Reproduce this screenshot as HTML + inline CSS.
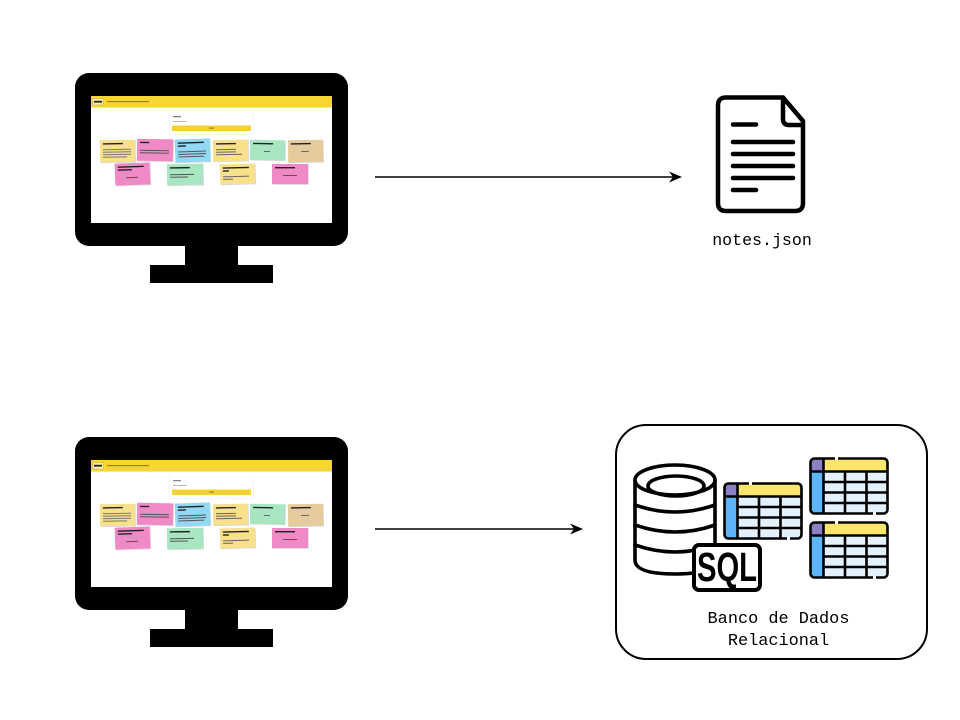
<!DOCTYPE html>
<html>
<head>
<meta charset="utf-8">
<style>
  html,body{margin:0;padding:0;background:#fff;}
  svg{display:block;}
</style>
</head>
<body>
<svg width="960" height="720" viewBox="0 0 960 720" xmlns="http://www.w3.org/2000/svg">
  <defs>
    <filter id="bl" x="-5%" y="-5%" width="110%" height="110%">
      <feGaussianBlur stdDeviation="0.35"/>
    </filter>
  </defs>
  <rect width="960" height="720" fill="#fff"/>

  <!-- ===== TOP MONITOR ===== -->
  <g>
    <rect x="75" y="73" width="273" height="173" rx="14" fill="#000"/>
    <rect x="185" y="244" width="53" height="22" fill="#000"/>
    <rect x="150" y="265" width="123" height="18" fill="#000"/>
    <rect x="91" y="96" width="241" height="127" fill="#fff"/>
    <g filter="url(#bl)">
      <rect x="91" y="96" width="241" height="11" fill="#f7d631"/>
      <rect x="91" y="107" width="241" height="1" fill="#e2e2e2"/>
      <rect x="92.5" y="98.5" width="11" height="6.5" fill="#fbeea0" stroke="#b9a030" stroke-width="0.4"/>
      <rect x="94" y="100.8" width="8" height="1.8" fill="#222"/>
      <rect x="107" y="101" width="42" height="1.2" fill="#9a8526"/>
      <!-- form -->
      <rect x="169.5" y="112" width="84" height="22.5" fill="#e8e8e8"/>
      <rect x="170" y="112" width="83" height="22" fill="#fff"/>
      <rect x="173" y="116" width="8" height="1.3" fill="#888"/>
      <rect x="173" y="121" width="14" height="1" fill="#bbb"/>
      <rect x="172" y="125.5" width="79" height="5.5" fill="#f5d22e"/>
      <rect x="209" y="127.6" width="5" height="1" fill="#8a7620"/>
      <!-- notes row 1 -->
      <g transform="rotate(-1 117 151)"><rect x="100.8" y="140.8" width="35" height="22" fill="#d8d8d8"/><rect x="100" y="140" width="35" height="22" fill="#f9e08a"/><rect x="103" y="143" width="20" height="1.4" fill="#222"/><rect x="103" y="149" width="28" height="1" fill="#777"/><rect x="103" y="151.5" width="28" height="1" fill="#777"/><rect x="103" y="154" width="28" height="1" fill="#777"/><rect x="103" y="156.5" width="24" height="1" fill="#777"/></g>
      <g transform="rotate(1 155 150)"><rect x="137.8" y="139.8" width="36" height="22" fill="#d8d8d8"/><rect x="137" y="139" width="36" height="22" fill="#f08ac6"/><rect x="140" y="142" width="9" height="1.4" fill="#222"/><rect x="140" y="150" width="29" height="1" fill="#555"/><rect x="140" y="152.5" width="29" height="1" fill="#555"/></g>
      <g transform="rotate(-2 192 150)"><rect x="175.8" y="139.8" width="35" height="23" fill="#d8d8d8"/><rect x="175" y="139" width="35" height="23" fill="#93d8f2"/><rect x="178" y="142" width="26" height="1.4" fill="#222"/><rect x="178" y="145" width="8" height="1.4" fill="#222"/><rect x="178" y="151" width="28" height="1" fill="#555"/><rect x="178" y="153.5" width="28" height="1" fill="#555"/><rect x="178" y="156" width="26" height="1" fill="#555"/></g>
      <g transform="rotate(-1 230 150)"><rect x="213.8" y="140.8" width="35" height="21" fill="#d8d8d8"/><rect x="213" y="140" width="35" height="21" fill="#f9e08a"/><rect x="216" y="143" width="20" height="1.4" fill="#222"/><rect x="216" y="149" width="20" height="1" fill="#666"/><rect x="216" y="151.5" width="20" height="1" fill="#666"/><rect x="216" y="154" width="26" height="1" fill="#666"/></g>
      <g transform="rotate(1 267 150)"><rect x="250.8" y="140.8" width="35" height="20" fill="#d8d8d8"/><rect x="250" y="140" width="35" height="20" fill="#a8e6c1"/><rect x="253" y="143" width="20" height="1.4" fill="#222"/><rect x="264" y="151" width="6" height="1" fill="#666"/></g>
      <g transform="rotate(-1 305 151)"><rect x="288.8" y="140.8" width="35" height="22" fill="#d8d8d8"/><rect x="288" y="140" width="35" height="22" fill="#e6cb9f"/><rect x="291" y="143" width="20" height="1.4" fill="#222"/><rect x="301" y="151" width="8" height="1" fill="#666"/></g>
      <!-- notes row 2 -->
      <g transform="rotate(-2 132 174)"><rect x="115.8" y="163.8" width="35" height="22" fill="#d8d8d8"/><rect x="115" y="163" width="35" height="22" fill="#f08ac6"/><rect x="118" y="166" width="26" height="1.4" fill="#222"/><rect x="118" y="169" width="14" height="1.4" fill="#222"/><rect x="126" y="177" width="12" height="1" fill="#555"/></g>
      <g transform="rotate(-1 185 174)"><rect x="167.8" y="164.8" width="36" height="21" fill="#d8d8d8"/><rect x="167" y="164" width="36" height="21" fill="#a8e6c1"/><rect x="170" y="167" width="20" height="1.4" fill="#222"/><rect x="170" y="174" width="24" height="1" fill="#555"/><rect x="170" y="176.5" width="18" height="1" fill="#555"/></g>
      <g transform="rotate(-1.5 237 174)"><rect x="220.8" y="164.8" width="35" height="20" fill="#d8d8d8"/><rect x="220" y="164" width="35" height="20" fill="#f9e08a"/><rect x="223" y="167" width="26" height="1.4" fill="#222"/><rect x="223" y="170" width="6" height="1.4" fill="#222"/><rect x="223" y="176" width="26" height="1" fill="#666"/><rect x="223" y="178.5" width="10" height="1" fill="#666"/></g>
      <g transform="rotate(0 290 174)"><rect x="272.8" y="164.8" width="36" height="20" fill="#d8d8d8"/><rect x="272" y="164" width="36" height="20" fill="#f08ac6"/><rect x="275" y="167" width="20" height="1.4" fill="#222"/><rect x="283" y="175" width="14" height="1" fill="#555"/></g>
    </g>
  </g>

  <!-- ===== BOTTOM MONITOR ===== -->
  <g transform="translate(0,364)">
    <rect x="75" y="73" width="273" height="173" rx="14" fill="#000"/>
    <rect x="185" y="244" width="53" height="22" fill="#000"/>
    <rect x="150" y="265" width="123" height="18" fill="#000"/>
    <rect x="91" y="96" width="241" height="127" fill="#fff"/>
    <g filter="url(#bl)">
      <rect x="91" y="96" width="241" height="11" fill="#f7d631"/>
      <rect x="91" y="107" width="241" height="1" fill="#e2e2e2"/>
      <rect x="92.5" y="98.5" width="11" height="6.5" fill="#fbeea0" stroke="#b9a030" stroke-width="0.4"/>
      <rect x="94" y="100.8" width="8" height="1.8" fill="#222"/>
      <rect x="107" y="101" width="42" height="1.2" fill="#9a8526"/>
      <rect x="169.5" y="112" width="84" height="22.5" fill="#e8e8e8"/>
      <rect x="170" y="112" width="83" height="22" fill="#fff"/>
      <rect x="173" y="116" width="8" height="1.3" fill="#888"/>
      <rect x="173" y="121" width="14" height="1" fill="#bbb"/>
      <rect x="172" y="125.5" width="79" height="5.5" fill="#f5d22e"/>
      <rect x="209" y="127.6" width="5" height="1" fill="#8a7620"/>
      <g transform="rotate(-1 117 151)"><rect x="100.8" y="140.8" width="35" height="22" fill="#d8d8d8"/><rect x="100" y="140" width="35" height="22" fill="#f9e08a"/><rect x="103" y="143" width="20" height="1.4" fill="#222"/><rect x="103" y="149" width="28" height="1" fill="#777"/><rect x="103" y="151.5" width="28" height="1" fill="#777"/><rect x="103" y="154" width="28" height="1" fill="#777"/><rect x="103" y="156.5" width="24" height="1" fill="#777"/></g>
      <g transform="rotate(1 155 150)"><rect x="137.8" y="139.8" width="36" height="22" fill="#d8d8d8"/><rect x="137" y="139" width="36" height="22" fill="#f08ac6"/><rect x="140" y="142" width="9" height="1.4" fill="#222"/><rect x="140" y="150" width="29" height="1" fill="#555"/><rect x="140" y="152.5" width="29" height="1" fill="#555"/></g>
      <g transform="rotate(-2 192 150)"><rect x="175.8" y="139.8" width="35" height="23" fill="#d8d8d8"/><rect x="175" y="139" width="35" height="23" fill="#93d8f2"/><rect x="178" y="142" width="26" height="1.4" fill="#222"/><rect x="178" y="145" width="8" height="1.4" fill="#222"/><rect x="178" y="151" width="28" height="1" fill="#555"/><rect x="178" y="153.5" width="28" height="1" fill="#555"/><rect x="178" y="156" width="26" height="1" fill="#555"/></g>
      <g transform="rotate(-1 230 150)"><rect x="213.8" y="140.8" width="35" height="21" fill="#d8d8d8"/><rect x="213" y="140" width="35" height="21" fill="#f9e08a"/><rect x="216" y="143" width="20" height="1.4" fill="#222"/><rect x="216" y="149" width="20" height="1" fill="#666"/><rect x="216" y="151.5" width="20" height="1" fill="#666"/><rect x="216" y="154" width="26" height="1" fill="#666"/></g>
      <g transform="rotate(1 267 150)"><rect x="250.8" y="140.8" width="35" height="20" fill="#d8d8d8"/><rect x="250" y="140" width="35" height="20" fill="#a8e6c1"/><rect x="253" y="143" width="20" height="1.4" fill="#222"/><rect x="264" y="151" width="6" height="1" fill="#666"/></g>
      <g transform="rotate(-1 305 151)"><rect x="288.8" y="140.8" width="35" height="22" fill="#d8d8d8"/><rect x="288" y="140" width="35" height="22" fill="#e6cb9f"/><rect x="291" y="143" width="20" height="1.4" fill="#222"/><rect x="301" y="151" width="8" height="1" fill="#666"/></g>
      <g transform="rotate(-2 132 174)"><rect x="115.8" y="163.8" width="35" height="22" fill="#d8d8d8"/><rect x="115" y="163" width="35" height="22" fill="#f08ac6"/><rect x="118" y="166" width="26" height="1.4" fill="#222"/><rect x="118" y="169" width="14" height="1.4" fill="#222"/><rect x="126" y="177" width="12" height="1" fill="#555"/></g>
      <g transform="rotate(-1 185 174)"><rect x="167.8" y="164.8" width="36" height="21" fill="#d8d8d8"/><rect x="167" y="164" width="36" height="21" fill="#a8e6c1"/><rect x="170" y="167" width="20" height="1.4" fill="#222"/><rect x="170" y="174" width="24" height="1" fill="#555"/><rect x="170" y="176.5" width="18" height="1" fill="#555"/></g>
      <g transform="rotate(-1.5 237 174)"><rect x="220.8" y="164.8" width="35" height="20" fill="#d8d8d8"/><rect x="220" y="164" width="35" height="20" fill="#f9e08a"/><rect x="223" y="167" width="26" height="1.4" fill="#222"/><rect x="223" y="170" width="6" height="1.4" fill="#222"/><rect x="223" y="176" width="26" height="1" fill="#666"/><rect x="223" y="178.5" width="10" height="1" fill="#666"/></g>
      <g transform="rotate(0 290 174)"><rect x="272.8" y="164.8" width="36" height="20" fill="#d8d8d8"/><rect x="272" y="164" width="36" height="20" fill="#f08ac6"/><rect x="275" y="167" width="20" height="1.4" fill="#222"/><rect x="283" y="175" width="14" height="1" fill="#555"/></g>
    </g>
  </g>

  <!-- ===== ARROWS ===== -->
  <line x1="375" y1="177" x2="674" y2="177" stroke="#000" stroke-width="1.6"/>
  <path d="M682,177 L669,171.5 L673,177 L669,182.5 Z" fill="#000"/>
  <line x1="375" y1="529" x2="575" y2="529" stroke="#000" stroke-width="1.6"/>
  <path d="M583,529 L570,523.5 L574,529 L570,534.5 Z" fill="#000"/>

  <!-- ===== DOCUMENT ICON ===== -->
  <g fill="none" stroke="#000" stroke-width="4.5" stroke-linejoin="round" stroke-linecap="round">
    <path d="M726,97.5 H783 L803,121 V203 Q803,211 795,211 H726 Q718,211 718,203 V105.5 Q718,97.5 726,97.5 Z" fill="#fff"/>
    <path d="M783,97.5 V119 Q783,125 789,125 H803"/>
    <line x1="733" y1="124.5" x2="756" y2="124.5"/>
    <line x1="733" y1="142" x2="793" y2="142"/>
    <line x1="733" y1="154" x2="793" y2="154"/>
    <line x1="733" y1="166" x2="793" y2="166"/>
    <line x1="733" y1="178" x2="793" y2="178"/>
    <line x1="733" y1="190" x2="756" y2="190"/>
  </g>
  <text x="762" y="245" text-anchor="middle" font-family="'Liberation Mono', monospace" font-size="16.6" fill="#000">notes.json</text>

  <!-- ===== DATABASE BOX ===== -->
  <rect x="616" y="425" width="311" height="234" rx="30" fill="#fff" stroke="#000" stroke-width="2"/>

  <!-- cylinder -->
  <g fill="none" stroke="#000" stroke-width="3.6" stroke-linecap="round" stroke-linejoin="round">
    <path d="M635,480 V560 Q635,574 675,574 Q715,574 715,560 V480" fill="#fff"/>
    <ellipse cx="675" cy="480" rx="40" ry="15" fill="#fff"/>
    <ellipse cx="676" cy="486" rx="28" ry="10"/>
    <path d="M635,505 Q675,519 715,505"/>
    <path d="M635,525 Q675,539 715,525"/>
    <path d="M635,545 Q675,559 715,545"/>
  </g>

  <!-- SQL box -->
  <rect x="694" y="545" width="66" height="45" rx="5" fill="#fff" stroke="#000" stroke-width="4"/>
  <text x="697" y="581" font-family="'Liberation Sans', 'DejaVu Sans', sans-serif" font-weight="bold" font-size="41" textLength="60" lengthAdjust="spacingAndGlyphs" fill="#000">SQL</text>

  <!-- table 1 -->
  <g transform="translate(723,482)">
    <rect x="1.5" y="1.5" width="77" height="55" rx="4" fill="#e3f1fd"/>
    <rect x="1.5" y="1.5" width="77" height="13" fill="#fde46d"/>
    <rect x="1.5" y="1.5" width="13" height="13" fill="#8c7fc6"/>
    <rect x="1.5" y="14.5" width="13" height="42" fill="#5db4f7"/>
    <g stroke="#000" stroke-width="2.6" fill="none">
      <line x1="1.5" y1="14.5" x2="78.5" y2="14.5"/>
      <line x1="14.5" y1="1.5" x2="14.5" y2="56.5"/>
      <line x1="14.5" y1="25" x2="78.5" y2="25"/>
      <line x1="14.5" y1="35.5" x2="78.5" y2="35.5"/>
      <line x1="14.5" y1="46" x2="78.5" y2="46"/>
      <line x1="36" y1="14.5" x2="36" y2="56.5"/>
      <line x1="57.5" y1="14.5" x2="57.5" y2="56.5"/>
      <rect x="1.5" y="1.5" width="77" height="55" rx="4"/>
    </g>
    <rect x="26" y="0" width="3" height="3" fill="#fff"/>
    <rect x="64" y="55" width="3" height="3" fill="#fff"/>
  </g>
  <!-- table 2 -->
  <g transform="translate(809,457)">
    <rect x="1.5" y="1.5" width="77" height="55" rx="4" fill="#e3f1fd"/>
    <rect x="1.5" y="1.5" width="77" height="13" fill="#fde46d"/>
    <rect x="1.5" y="1.5" width="13" height="13" fill="#8c7fc6"/>
    <rect x="1.5" y="14.5" width="13" height="42" fill="#5db4f7"/>
    <g stroke="#000" stroke-width="2.6" fill="none">
      <line x1="1.5" y1="14.5" x2="78.5" y2="14.5"/>
      <line x1="14.5" y1="1.5" x2="14.5" y2="56.5"/>
      <line x1="14.5" y1="25" x2="78.5" y2="25"/>
      <line x1="14.5" y1="35.5" x2="78.5" y2="35.5"/>
      <line x1="14.5" y1="46" x2="78.5" y2="46"/>
      <line x1="36" y1="14.5" x2="36" y2="56.5"/>
      <line x1="57.5" y1="14.5" x2="57.5" y2="56.5"/>
      <rect x="1.5" y="1.5" width="77" height="55" rx="4"/>
    </g>
    <rect x="26" y="0" width="3" height="3" fill="#fff"/>
    <rect x="64" y="55" width="3" height="3" fill="#fff"/>
  </g>
  <!-- table 3 -->
  <g transform="translate(809,521)">
    <rect x="1.5" y="1.5" width="77" height="55" rx="4" fill="#e3f1fd"/>
    <rect x="1.5" y="1.5" width="77" height="13" fill="#fde46d"/>
    <rect x="1.5" y="1.5" width="13" height="13" fill="#8c7fc6"/>
    <rect x="1.5" y="14.5" width="13" height="42" fill="#5db4f7"/>
    <g stroke="#000" stroke-width="2.6" fill="none">
      <line x1="1.5" y1="14.5" x2="78.5" y2="14.5"/>
      <line x1="14.5" y1="1.5" x2="14.5" y2="56.5"/>
      <line x1="14.5" y1="25" x2="78.5" y2="25"/>
      <line x1="14.5" y1="35.5" x2="78.5" y2="35.5"/>
      <line x1="14.5" y1="46" x2="78.5" y2="46"/>
      <line x1="36" y1="14.5" x2="36" y2="56.5"/>
      <line x1="57.5" y1="14.5" x2="57.5" y2="56.5"/>
      <rect x="1.5" y="1.5" width="77" height="55" rx="4"/>
    </g>
    <rect x="26" y="0" width="3" height="3" fill="#fff"/>
    <rect x="64" y="55" width="3" height="3" fill="#fff"/>
  </g>

  <text x="778.5" y="623" text-anchor="middle" font-family="'Liberation Mono', monospace" font-size="16.9" fill="#000">Banco de Dados</text>
  <text x="778.5" y="645" text-anchor="middle" font-family="'Liberation Mono', monospace" font-size="16.9" fill="#000">Relacional</text>
</svg>
</body>
</html>
